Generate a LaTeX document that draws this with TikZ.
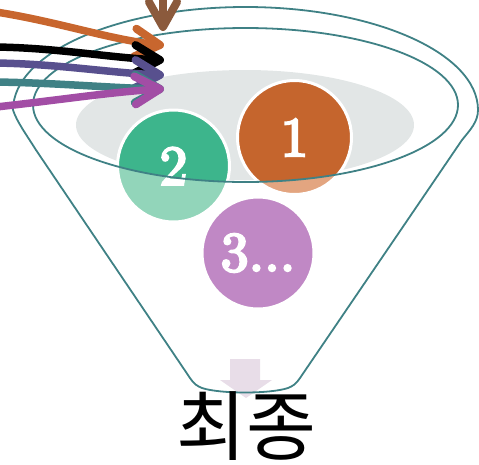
\documentclass[tikz,border=0pt]{standalone}
\usepackage{fontspec}
\newfontfamily\krfont{Noto Sans CJK KR}
\newfontfamily\numfont[FakeBold=4]{lmroman10-regular.otf}
\definecolor{funnelteal}{HTML}{3F8185}
\definecolor{haze}{HTML}{E2E6E6}
\definecolor{cgreen}{HTML}{3DB58C}
\definecolor{cgreenL}{HTML}{92D5BA}
\definecolor{corange}{HTML}{C5652D}
\definecolor{corangeL}{HTML}{E3A580}
\definecolor{cpurpleL}{HTML}{C088C5}
\definecolor{aorange}{HTML}{C8662E}
\definecolor{aslate}{HTML}{58508E}
\definecolor{ateal}{HTML}{3F8185}
\definecolor{amagenta}{HTML}{A24DA5}
\definecolor{abrown}{HTML}{8B5A3C}
\definecolor{lav}{HTML}{E8DDE8}
\tikzset{
  outline/.style={draw=funnelteal, line width=1.8pt},
  ball/.style={circle, minimum size=#1, inner sep=0pt, draw=white, line width=3pt,
    text=white, font=\numfont\fontsize{56}{60}\selectfont},
  flow/.style={line width=7.5pt},
  chev/.pic={\draw[line width=8pt, line cap=round, line join=round] (-25,-14) -- (0,0) -- (-25,14);},
}
\begin{document}
\begin{tikzpicture}[x=1pt,y=-1pt]
\useasboundingbox (0,0) rectangle (479,464);
% gray haze inside inner rim
\begin{scope}
  \clip (245.5,105) ellipse [x radius=212.5, y radius=77];
  \fill[haze] (245,125) ellipse [x radius=169, y radius=55];
\end{scope}
% circles: light parts
\fill[cgreenL] (173.5,166) circle [radius=56];
\fill[corangeL] (294.5,137.5) circle [radius=57];
\fill[cpurpleL] (258,253) circle [radius=56];
% solid parts within the rim
\begin{scope}
  \clip (245.5,105) ellipse [x radius=212.5, y radius=77];
  \fill[cgreen] (173.5,166) circle [radius=56];
  \fill[corange] (294.5,137.5) circle [radius=57];
\end{scope}
\node[ball=112pt] (c2) at (173.5,166) {2};
\node[ball=114pt] (c1) at (294.5,137.5) {1};
\node[ball=112pt] (c3) at (258,253) {3...};
% inner rim
\draw[outline] (245.5,105) ellipse [x radius=212.5, y radius=77];
% output block arrow
\fill[lav] (230,359) -- (260,359) -- (260,380) -- (272,380) -- (246,398) -- (220,380) -- (230,380) -- cycle;
% funnel body
\draw[outline, line join=round] (13,110) arc [start angle=180, end angle=360, x radius=232.5, y radius=103]
  .. controls (478,122) and (470,130) .. (462,140)
  -- (300,378) .. controls (296,384) and (293,386) .. (288,388)
  .. controls (270,394) and (220,394) .. (202,388)
  .. controls (197,386) and (194,384) .. (190,378)
  -- (36,150) .. controls (26,134) and (17,122) .. (13,110);
% input arrows
\coordinate (s1) at (-4,12);   \coordinate (t1) at (160,45);
\coordinate (s2) at (-4,47);   \coordinate (t2) at (160,60);
\coordinate (s3) at (-4,63);   \coordinate (t3) at (160,75);
\coordinate (s4) at (-4,82);   \coordinate (t4) at (160,89);
\coordinate (s5) at (-4,107);  \coordinate (t5) at (160,89);
\coordinate (s6) at (163,-8);  \coordinate (t6) at (163,27);
\draw[flow, aorange] (s1) .. controls (60,22) and (110,40) .. (t1);
\pic[aorange, rotate=-5.4] at (t1) {chev};
\draw[flow, black] (s2) .. controls (60,48) and (110,58) .. (t2);
\pic[black, rotate=-2.2] at (t2) {chev};
\draw[flow, aslate] (s3) .. controls (60,64) and (110,73) .. (t3);
\pic[aslate, rotate=-2.2] at (t3) {chev};
\draw[flow, ateal] (s4) .. controls (60,83) and (110,88) .. (t4);
\pic[ateal, rotate=-1] at (t4) {chev};
\draw[flow, amagenta] (s5) .. controls (60,100) and (110,92) .. (t5);
\pic[amagenta, rotate=3.2] at (t5) {chev};
\draw[flow, abrown] (s6) -- (t6);
\pic[abrown, rotate=-90] at (t6) {chev};
% label
\node[font=\krfont\fontsize{76}{80}\selectfont, inner sep=0pt] (out) at (246,426) {최종};
\end{tikzpicture}
\end{document}
